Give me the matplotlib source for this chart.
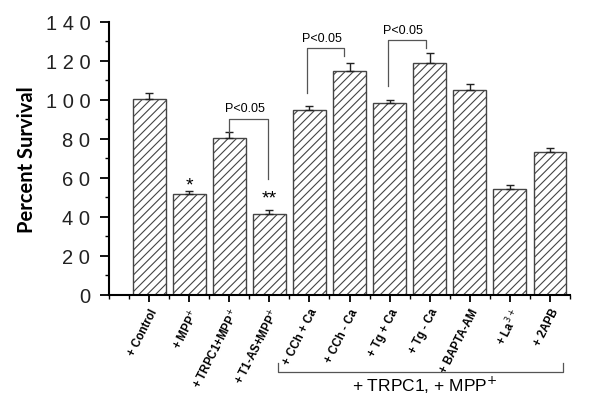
import matplotlib
matplotlib.use("Agg")
import matplotlib.pyplot as plt
from matplotlib.ticker import MultipleLocator

categories = ["+ Control", "+ MPP$^{+}$", "+ TRPC1+MPP$^{+}$", "+ T1-AS+MPP$^{+}$",
              "+ CCh + Ca", "+ CCh - Ca", "+ Tg + Ca", "+ Tg - Ca",
              "+ BAPTA-AM", "+ La$^{3+}$", "+ 2APB"]
values = [100.3, 51.8, 80.5, 41.6, 95.0, 114.9, 98.3, 118.8, 105.2, 54.4, 73.2]
errors = [3.0, 1.3, 3.0, 2.0, 2.0, 4.0, 1.5, 5.2, 2.8, 2.1, 2.0]
yticks = [0, 20, 40, 60, 80, 100, 120, 140]
ytick_labels = ["0", "2 0", "4 0", "6 0", "8 0", "1 0 0", "1 2 0", "1 4 0"]

plt.rcParams['font.family'] = ['Liberation Sans', 'DejaVu Sans']
plt.rcParams['hatch.linewidth'] = 0.8
plt.rcParams['hatch.color'] = '#333333'

fig = plt.figure(figsize=(6.0, 4.02), dpi=100)
ax = fig.add_axes([0.1817, 0.2637, 0.95 - 0.1817, 0.9435 - 0.2637])

x = list(range(1, len(values) + 1))
ax.bar(x, values, width=0.82, facecolor='white', edgecolor='#444444',
       linewidth=1.0, hatch='////')
ax.errorbar(x, values, yerr=[[0] * len(errors), errors], fmt='none',
            ecolor='#222222', elinewidth=1.0, capsize=3, capthick=1.0)

ax.set_xlim(0, 11.5)
ax.set_ylim(0, 140)
ax.set_yticks(yticks)
ax.set_yticklabels(ytick_labels, fontsize=14.5, color='#222222')
ax.yaxis.set_minor_locator(MultipleLocator(10))
ax.set_xticks(x)
ax.set_xticklabels(categories, rotation=63, ha='right', va='top',
                   rotation_mode='anchor', fontsize=8.3, fontweight='bold')
ax.xaxis.set_minor_locator(MultipleLocator(0.5))
for s in ['top', 'right']:
    ax.spines[s].set_visible(False)
for s in ['left', 'bottom']:
    ax.spines[s].set_linewidth(1.5)
ax.tick_params(axis='y', which='major', direction='out', length=6.5, width=1.3, pad=7)
ax.tick_params(axis='y', which='minor', direction='out', length=3, width=1.0)
ax.tick_params(axis='x', which='major', direction='out', length=5, width=1.3, pad=3)
ax.tick_params(axis='x', which='minor', direction='out', length=3, width=1.0)

ax.set_ylabel("Percent Survival", fontsize=14.5, fontweight='bold',
              family=['Lato', 'DejaVu Sans'], labelpad=6)

# significance brackets
def bracket(x1, x2, ytop, y1, y2, ty):
    ax.plot([x1, x1, x2, x2], [y1, ytop, ytop, y2], color='#555555', lw=0.9,
            clip_on=False)
    ax.text((x1 + x2) / 2 - 0.1, ty, "P<0.05", ha='center', va='bottom', fontsize=9)

bracket(3.0, 3.97, 90.3, 83.6, 59.5, 92.5)
bracket(4.95, 5.87, 126.5, 103.6, 122.6, 128.7)
bracket(6.95, 7.92, 130.4, 107.3, 126.5, 132.8)

ax.text(2, 56.5, "*", ha='center', va='center', fontsize=14)
ax.text(4, 49.5, "**", ha='center', va='center', fontsize=14)

# lower group bracket
y_top = 1 - 364 / 402
y_bot = 1 - 373 / 402
fig.add_artist(plt.Line2D([278 / 600, 278 / 600, 563 / 600, 563 / 600],
                          [y_top, y_bot, y_bot, y_top], color='#555555', lw=0.9))
fig.text(425 / 600, 1 - 385 / 402, "+ TRPC1, + MPP$^{+}$", ha='center', va='center',
         fontsize=12.5)

fig.savefig("out.png", dpi=100)
